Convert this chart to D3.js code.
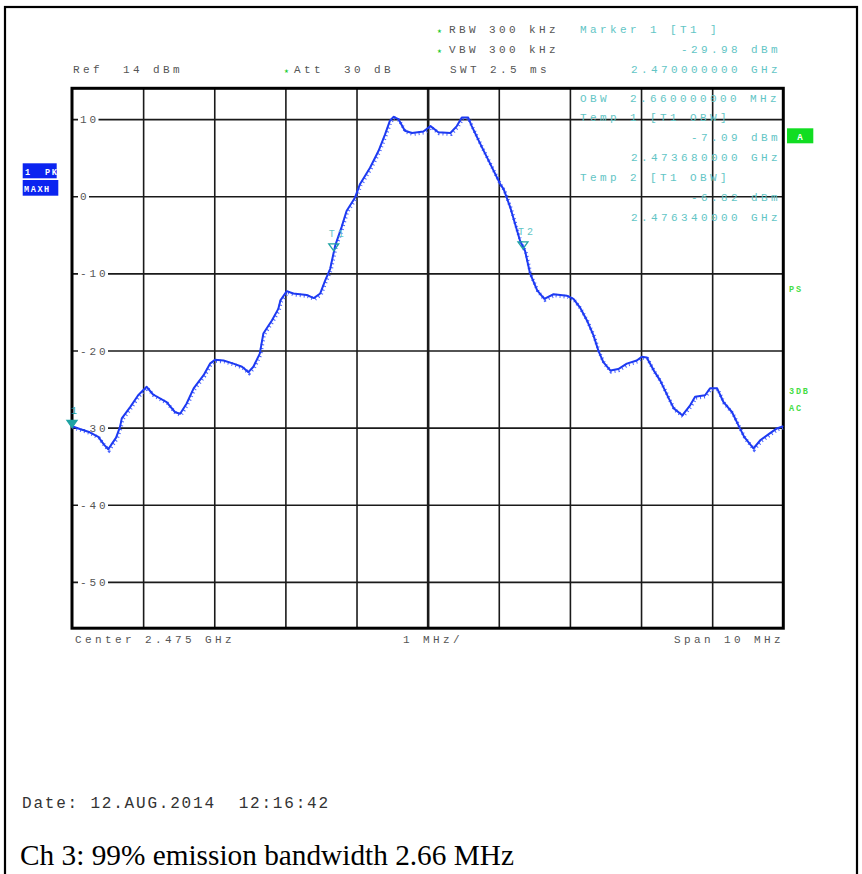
<!DOCTYPE html>
<html><head><meta charset="utf-8">
<script src="https://cdn.jsdelivr.net/npm/d3@7"></script>
<style>
html,body{margin:0;padding:0;background:#fff;}
svg{display:block;}
text{white-space:pre;}
</style></head>
<body><svg id="c" width="862" height="874"></svg>
<script>
// ---- data (frequency offset from 2.470 GHz in MHz, level in dBm) ----
const freqOffsetMHz = [0.00,0.12,0.25,0.37,0.45,0.51,0.56,0.62,0.675,0.70,0.82,0.93,1.05,1.14,1.33,1.45,1.52,1.61,1.71,1.85,1.94,2.01,2.13,2.27,2.39,2.48,2.55,2.64,2.69,2.81,2.90,2.93,3.02,3.11,3.30,3.40,3.49,3.56,3.63,3.70,3.79,3.86,3.98,4.05,4.19,4.31,4.40,4.47,4.52,4.59,4.68,4.78,4.94,5.04,5.15,5.32,5.41,5.48,5.57,5.62,5.74,5.88,6.02,6.07,6.16,6.30,6.37,6.44,6.54,6.64,6.77,6.96,7.05,7.14,7.24,7.33,7.40,7.47,7.57,7.68,7.80,7.94,8.01,8.08,8.18,8.27,8.39,8.46,8.58,8.69,8.76,8.90,8.97,9.07,9.16,9.28,9.37,9.45,9.58,9.68,9.80,9.91,10.00];
const levelDbm = [-29.8,-30.2,-30.6,-31.2,-32.2,-32.8,-32.1,-31.3,-29.9,-28.8,-27.3,-25.8,-24.7,-25.7,-26.7,-28.0,-28.2,-26.9,-24.9,-23.2,-21.7,-21.2,-21.3,-21.7,-22.1,-22.8,-22.1,-20.4,-17.8,-16.1,-14.6,-13.5,-12.3,-12.6,-12.8,-13.2,-12.6,-10.9,-9.4,-6.4,-4.0,-1.9,-0.15,1.6,3.7,5.9,8.0,9.8,10.3,10.0,8.5,8.2,8.4,9.1,8.3,8.2,9.1,10.2,10.2,9.1,6.8,4.2,1.6,0.9,-1.4,-5.8,-7.1,-10.0,-12.2,-13.3,-12.7,-12.9,-13.3,-14.4,-16.1,-18.0,-20.0,-21.5,-22.6,-22.4,-21.7,-21.3,-20.8,-20.9,-22.6,-23.9,-26.2,-27.5,-28.4,-27.1,-26.0,-25.8,-24.9,-24.9,-26.7,-28.0,-29.7,-31.2,-32.7,-31.6,-30.8,-30.1,-29.8];
const yTickValues = [10,0,-10,-20,-30,-40,-50];
const yTickLabels = ["10","0","-10","-20","-30","-40","-50"];
const xGridValues = [1,2,3,4,5,6,7,8,9];
const markerNames = ["1","T1","T2"];
const markerFreqOffsetMHz = [0, 3.68, 6.34];
const markerLevels = [-29.98, -7.09, -6.82];
const markerFilled = [true, false, false];
const headerLeft = ["Ref  14 dBm"];
const settings = ["RBW 300 kHz","VBW 300 kHz","SWT 2.5 ms"];
const markerInfo = ["Marker 1 [T1 ]","-29.98 dBm","2.470000000 GHz"];
const obwInfo = ["OBW  2.660000000 MHz","Temp 1 [T1 OBW]","-7.09 dBm","2.473680000 GHz","Temp 2 [T1 OBW]","-6.82 dBm","2.476340000 GHz"];
const bottomLabels = ["Center 2.475 GHz","1 MHz/","Span 10 MHz"];
const dateText = "Date: 12.AUG.2014  12:16:42";
const captionText = "Ch 3: 99% emission bandwidth 2.66 MHz";

// ---- layout ----
const X0 = 72, X1 = 783.3, Y0 = 88.3, Y1 = 628.2;
const svg = d3.select("#c");
const x = d3.scaleLinear().domain([0,10]).range([X0,X1]);
const y = d3.scaleLinear().domain([-56,14]).range([Y1,Y0]);
const MONO = "'Liberation Mono','DejaVu Sans Mono',monospace";
const TEAL = "#62c5c5", GREY = "#555";

// outer frame
svg.append("rect").attr("x",5).attr("y",7).attr("width",852).attr("height",900)
  .attr("fill","none").attr("stroke","#000").attr("stroke-width",2.2);

// grid via axes
const gx = svg.append("g").attr("transform",`translate(0,${Y1})`)
  .call(d3.axisBottom(x).tickValues(xGridValues).tickSize(-(Y1-Y0)).tickFormat(""));
gx.select(".domain").remove();
gx.selectAll(".tick line").attr("stroke","#1a1a1a")
  .attr("stroke-width",d => d===5 ? 2.6 : 1.6);

const gy = svg.append("g").attr("transform",`translate(${X0},0)`)
  .call(d3.axisLeft(y).tickValues(yTickValues).tickSize(-(X1-X0)).tickFormat(""));
gy.select(".domain").remove();
gy.selectAll(".tick line").attr("stroke","#1a1a1a").attr("stroke-width",1.6);

// y tick labels inside plot with white background
const lab = svg.append("g");
yTickValues.forEach((v,i) => {
  const s = yTickLabels[i];
  const w = (s.length-1)*9.5 + 7;
  lab.append("rect").attr("x",78).attr("y",y(v)-4).attr("width",w+4).attr("height",8).attr("fill","#fff");
  lab.append("text").attr("x",80).attr("y",y(v)+4).text(s)
    .attr("font-family",MONO).attr("font-size",11).attr("letter-spacing",2.9).attr("fill",GREY);
});

// plot border
svg.append("rect").attr("x",X0).attr("y",Y0).attr("width",X1-X0).attr("height",Y1-Y0)
  .attr("fill","none").attr("stroke","#000").attr("stroke-width",3);

// trace
const pts = freqOffsetMHz.map((f,i)=>[f,levelDbm[i]]);
const line = d3.line().x(d=>x(d[0])).y(d=>y(d[1]));
svg.append("path").attr("d",line(pts)).attr("fill","none")
  .attr("stroke","#4a63ff").attr("stroke-width",3.6).attr("stroke-dasharray","1,3")
  .attr("transform","translate(0.8,1.2)");
svg.append("path").attr("d",line(pts)).attr("fill","none")
  .attr("stroke","#1d3af2").attr("stroke-width",2).attr("stroke-linejoin","round");

// markers
markerNames.forEach((n,i)=>{
  const mx = x(markerFreqOffsetMHz[i]), my = y(markerLevels[i]);
  const tri = `M${mx-5},${my-7} L${mx+5},${my-7} L${mx},${my} Z`;
  svg.append("path").attr("d",tri)
    .attr("fill", markerFilled[i] ? "#1fa3a3" : "none")
    .attr("stroke","#1fa3a3").attr("stroke-width",1.3);
  svg.append("text").attr("x",mx - (n.length>1?5:1)).attr("y",my-14).text(n)
    .attr("font-family",MONO).attr("font-size",10).attr("letter-spacing",n.length>1?3:0)
    .attr("fill", markerFilled[i] ? "#1fa3a3" : TEAL);
});

// header texts
const txt = (s,tx,ty,opt={}) => svg.append("text").attr("x",tx).attr("y",ty).text(s)
  .attr("font-family",opt.family||MONO).attr("font-size",opt.size||11)
  .attr("letter-spacing",opt.ls!==undefined?opt.ls:3.4)
  .attr("fill",opt.fill||GREY).attr("text-anchor",opt.anchor||"start")
  .attr("font-weight",opt.weight||"normal");

txt(headerLeft[0],73,73);
txt("\u2605",284,73,{size:8,ls:0,fill:"#22cc33"});
txt("Att  30 dB",294,73);
txt("\u2605",437,33,{size:8,ls:0,fill:"#22cc33"});
txt(settings[0],449,33);
txt("\u2605",437,53,{size:8,ls:0,fill:"#22cc33"});
txt(settings[1],449,53);
txt(settings[2],450,73);
txt(markerInfo[0],580,33,{fill:TEAL});
txt(markerInfo[1],781,53,{fill:TEAL,anchor:"end"});
txt(markerInfo[2],781,73,{fill:TEAL,anchor:"end"});

const obwY = [102,121,141,161,181,201,221];
const obwRight = [false,false,true,true,false,true,true];
obwInfo.forEach((s,i)=>{
  if (obwRight[i]) txt(s,781,obwY[i],{fill:TEAL,anchor:"end"});
  else txt(s,580,obwY[i],{fill:TEAL});
});

// bottom labels
txt(bottomLabels[0],75,643);
txt(bottomLabels[1],403,643);
txt(bottomLabels[2],674,643);

// side badges
svg.append("rect").attr("x",22.7).attr("y",163.3).attr("width",34).attr("height",15).attr("fill","#0b24f0");
svg.append("rect").attr("x",22.7).attr("y",180).attr("width",35.6).attr("height",15.7).attr("fill","#0b24f0");
txt("1  PK",25,174.5,{size:8.5,ls:1.6,fill:"#fff",weight:"bold"});
txt("MAXH",24,191.5,{size:8.5,ls:1.6,fill:"#fff",weight:"bold"});
svg.append("rect").attr("x",787).attr("y",128.3).attr("width",26.3).attr("height",15).attr("fill","#11dd22");
txt("A",800,139.5,{size:9,ls:0,fill:"#fff",weight:"bold",anchor:"middle"});
txt("PS",789,292,{size:8.5,ls:1.8,fill:"#44dd44",weight:"bold"});
txt("3DB",789,393.5,{size:8.5,ls:1.8,fill:"#44dd44",weight:"bold"});
txt("AC",789,411,{size:8.5,ls:1.8,fill:"#44dd44",weight:"bold"});

// footer
txt(dateText,22,808,{size:16,ls:1.8,fill:"#333"});
svg.append("text").attr("x",20).attr("y",865).text(captionText)
  .attr("font-family","'Liberation Serif','Times New Roman',serif").attr("font-size",29.3).attr("fill","#000");
</script>
</body></html>
